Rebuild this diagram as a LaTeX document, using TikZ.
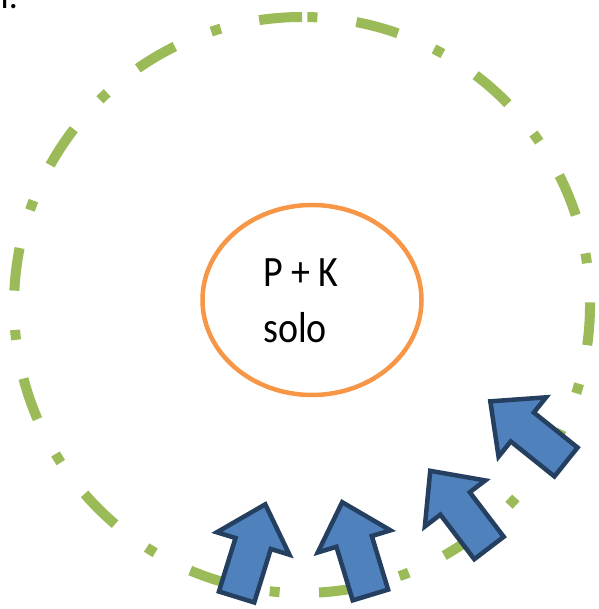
\documentclass[tikz,border=0pt]{standalone}
\usepackage{fontspec}
\setmainfont{Carlito}

\definecolor{ringgreen}{HTML}{9BBB59}
\definecolor{soilorange}{HTML}{F79646}
\definecolor{flowblue}{HTML}{4F81BD}
\definecolor{flowline}{HTML}{243F60}

% block arrow: base x, base y, turn
\newcommand{\inflow}[3]{%
\draw[flow, shift={(#1,#2)}, rotate=#3] (-18.5,0) -- (18.5,0) -- (18.5,56) -- (38,56) -- (0,97) -- (-38,56) -- (-18.5,56) -- cycle;}

\begin{document}
\begin{tikzpicture}[x=1pt, y=1pt,
  ring/.style = {color = ringgreen, line width = 10pt, dash pattern = on 43pt off 39.3pt on 10pt off 39.4pt},
  flow/.style = {fill = flowblue, draw = flowline, line width = 4.5pt},
  word/.style = {font = \fontsize{38}{56}\selectfont, yscale = 1.14, inner sep = 0pt, anchor = base west}]

\useasboundingbox (0, 0) rectangle (598, 609);

\node[font = \fontsize{36}{40}\selectfont, inner sep = 0pt, anchor = base west] (cut) at (0.5, 600) {l.};

\draw[ring] (302, 592) arc[start angle = 90, end angle = 450, radius = 288];

\draw[color = soilorange, line width = 4.5pt] (312, 309) ellipse [x radius = 109.5, y radius = 95];

\node[word] (pk) at (263, 322) {P + K};
\node[word] (solo) at (263, 266) {solo};

\inflow{236.6}{12}{-17.2}
\inflow{370.4}{14}{16.9}
\inflow{489}{61}{37.3}
\inflow{566}{147}{51.3}

\end{tikzpicture}
\end{document}
